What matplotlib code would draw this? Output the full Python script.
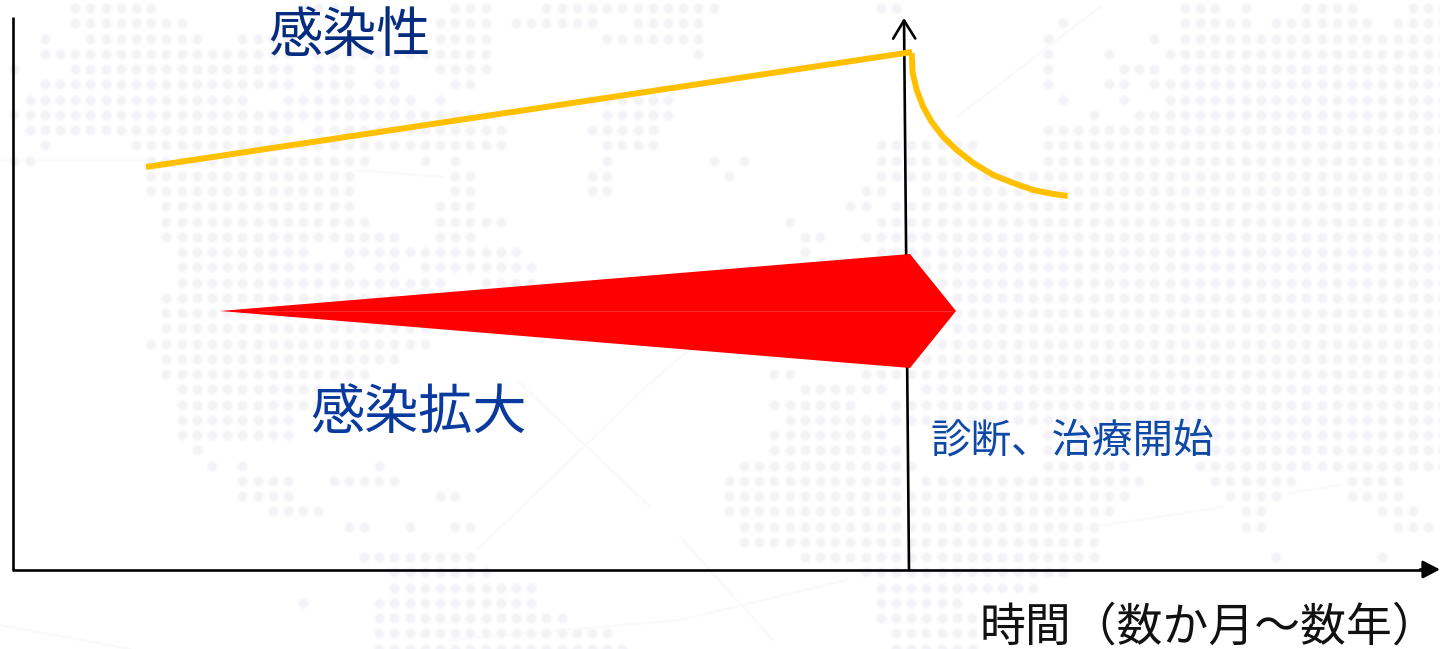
import numpy as np
import matplotlib
matplotlib.use("Agg")
import matplotlib.pyplot as plt
from matplotlib.patches import Polygon

plt.rcParams['font.family'] = ['Noto Sans CJK JP', 'DejaVu Sans']

WIDTH, HEIGHT = 1440, 649


def flip(y):
    """Convert a distance from the top edge to the upward axis coordinate."""
    return HEIGHT - np.asarray(y, dtype=float)


# Infectivity: slow rise before diagnosis, falling curve after treatment starts
infect_before_t = [146, 912]
infect_before_v = [482, 597]
infect_after_t = [911.7, 912.7, 916.7, 923.3, 931.7, 943.3, 956.7, 973.3, 993.3, 1013.3, 1033.3, 1053.3, 1067.7]
infect_after_v = [596, 576, 559, 542, 527, 512, 499, 486, 474, 466, 459, 455, 453]

# Spread of infection: wedge outline as (time, level)
spread_t = [220, 910, 956, 910]
spread_v = [338, 395, 338, 281]

# Labels
label_infect = '感染性'
label_spread = '感染拡大'
label_event = '診断、治療開始'
label_time = '時間（数か月～数年）'

# World-map dot pattern: x spans of land for each dot row, top to bottom
land_spans = [
    [(70, 155), (300, 330), (450, 490), (545, 720), (880, 900), (1180, 1220), (1240, 1250), (1300, 1350), (1410, 1440)],
    [(70, 185), (440, 490), (520, 600), (630, 700), (1060, 1066), (1180, 1250), (1270, 1370), (1390, 1440)],
    [(40, 50), (85, 195), (240, 290), (440, 490), (600, 700), (1045, 1055), (1150, 1156), (1180, 1440)],
    [(40, 285), (320, 490), (690, 700), (1045, 1055), (1105, 1112), (1165, 1440)],
    [(10, 20), (70, 290), (320, 350), (380, 400), (430, 490), (1045, 1055), (1120, 1160), (1180, 1440)],
    [(40, 290), (310, 350), (380, 400), (450, 470), (1045, 1055), (1105, 1130), (1150, 1440)],
    [(25, 250), (285, 420), (440, 450), (590, 670), (1060, 1070), (1120, 1130), (1165, 1440)],
    [(10, 490), (600, 670), (1090, 1100), (1135, 1440)],
    [(25, 290), (320, 500), (590, 660), (1040, 1440)],
    [(40, 50), (130, 440), (450, 500), (600, 660), (880, 980), (1040, 1440)],
    [(10, 30), (145, 370), (420, 430), (450, 460), (600, 610), (710, 720), (740, 750), (880, 960), (1040, 1440)],
    [(145, 350), (450, 470), (590, 610), (720, 730), (880, 1440)],
    [(145, 350), (450, 470), (590, 610), (860, 880), (920, 1440)],
    [(160, 350), (435, 470), (850, 870), (900, 1440)],
    [(160, 370), (435, 500), (780, 790), (880, 1440)],
    [(165, 365), (380, 400), (435, 470), (800, 820), (870, 1440)],
    [(175, 310), (340, 520), (800, 810), (880, 1440)],
    [(175, 310), (320, 350), (380, 400), (420, 530), (920, 1440)],
    [(175, 450), (480, 530), (920, 1440)],
    [(160, 400), (420, 430), (920, 1440)],
    [(160, 400), (950, 1440)],
    [(160, 430), (960, 1440)],
    [(150, 430), (900, 1440)],
    [(160, 400), (880, 1440)],
    [(160, 360), (770, 800), (860, 1440)],
    [(175, 325), (800, 880), (920, 1440)],
    [(175, 325), (770, 860), (890, 1440)],
    [(175, 290), (790, 880), (890, 1440)],
    [(175, 290), (770, 880), (1040, 1440)],
    [(190, 200), (770, 900), (1040, 1440)],
    [(205, 215), (240, 250), (370, 380), (740, 920), (1040, 1130), (1193, 1440)],
    [(240, 285), (330, 400), (725, 900), (920, 1143), (1210, 1297), (1347, 1403)],
    [(240, 290), (440, 460), (725, 1130), (1227, 1280), (1347, 1403)],
    [(265, 320), (725, 1110), (1240, 1265), (1380, 1410)],
    [(345, 370), (400, 410), (450, 470), (740, 1100), (1240, 1265), (1395, 1430)],
    [(740, 1090)],
    [(357, 477), (800, 1090), (1270, 1280), (1380, 1390)],
    [(388, 490), (870, 1060)],
    [(388, 535), (875, 1030)],
    [(298, 308), (375, 535), (875, 960)],
    [(373, 567), (880, 970)],
    [(373, 610), (890, 970)],
    [(373, 620), (890, 970)],
]

# Faint network lines behind the map, as (x0, top0, x1, top1)
network_lines = [
    (477, 550, 650, 383), (650, 383, 760, 290), (517, 380, 650, 507),
    (680, 537, 773, 640), (680, 620, 847, 580), (450, 640, 680, 620),
    (1073, 530, 1223, 507), (1290, 493, 1340, 485), (957, 117, 1100, 7),
    (0, 160, 145, 160), (357, 170, 443, 177), (0, 625, 130, 649),
]

fig = plt.figure(figsize=(WIDTH / 100, HEIGHT / 100), dpi=100)
ax = fig.add_axes([0, 0, 1, 1])
ax.set_xlim(0, WIDTH)
ax.set_ylim(0, HEIGHT)
ax.axis('off')

# Background: network lines, then soft dots (pale halo with a slightly darker core)
for x0, t0, x1, t1 in network_lines:
    ax.plot([x0, x1], flip([t0, t1]), color='#fafafb', lw=1.8, zorder=1)

dot_x, dot_y = [], []
for row, spans in enumerate(land_spans):
    row_top = 8 + 15.25 * row
    for start, stop in spans:
        first = np.ceil((start - 14.4) / 15.2 - 0.3)
        last = np.floor((stop - 14.4) / 15.2 + 0.3)
        for col in np.arange(first, last + 1):
            dot_x.append(14.4 + 15.2 * col)
            dot_y.append(flip(row_top))
ax.scatter(dot_x, dot_y, s=70, color='#fafafc', linewidths=0, zorder=1.2)
ax.scatter(dot_x, dot_y, s=34, color='#f2f2f7', linewidths=0, zorder=1.3)

# Axes: plain vertical line on the left, long baseline with a filled arrowhead,
# and an open-headed marker line at the moment of diagnosis
axis_lw = 1.9
ax.plot([13, 13], flip([17, 570]), color='black', lw=axis_lw, zorder=3, solid_capstyle='butt')
ax.plot([12, 1428], flip([569.5, 569.5]), color='black', lw=axis_lw, zorder=3, solid_capstyle='butt')
ax.annotate('', xy=(1440, flip(569.5)), xytext=(1420, flip(569.5)), zorder=3,
            arrowprops=dict(arrowstyle='-|>,head_length=0.52,head_width=0.27', color='black',
                            lw=axis_lw, mutation_scale=20, shrinkA=0, shrinkB=0))
ax.annotate('', xy=(904, flip(18)), xytext=(909, flip(570)), zorder=3,
            arrowprops=dict(arrowstyle='->,head_length=0.65,head_width=0.4', color='black',
                            lw=axis_lw, mutation_scale=20, shrinkA=0, shrinkB=0))

# Spread wedge with its lighter centre seam
ax.add_patch(Polygon(list(zip(spread_t, spread_v)), closed=True, facecolor='#ff0000',
                     edgecolor='none', zorder=4))
ax.plot([spread_t[0] + 40, spread_t[2] - 4], [spread_v[0], spread_v[2]],
        color='#ff3030', lw=0.7, zorder=4.1)

# Infectivity curve
ax.plot(infect_before_t, infect_before_v, color='#ffc000', lw=4.3, zorder=5, solid_capstyle='butt')
ax.plot(infect_after_t, infect_after_v, color='#ffc000', lw=4.3, zorder=5, solid_capstyle='butt',
        solid_joinstyle='round')

# Text labels
ax.text(349, flip(37), label_infect, fontsize=39, color='#062c80', ha='center', va='center', zorder=6)
ax.text(419, flip(414), label_spread, fontsize=39, color='#0a3a9e', ha='center', va='center', zorder=6)
ax.text(1072.5, flip(441), label_event, fontsize=29.2, color='#0f49a8', ha='center', va='center', zorder=6)
ax.text(1209, flip(627), label_time, fontsize=33, color='#111111', ha='center', va='center', zorder=6)

fig.savefig('out.png', dpi=100)
